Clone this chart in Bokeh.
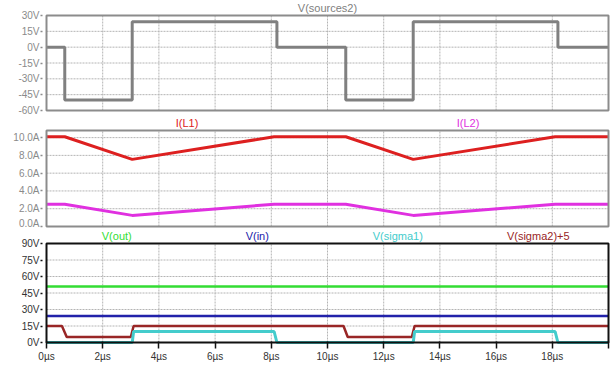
from bokeh.plotting import figure
from bokeh.layouts import column
from bokeh.models import Range1d, FixedTicker, PrintfTickFormatter
from bokeh.core.properties import value
from bokeh.embed import file_html
from bokeh.resources import INLINE

# ---- data ----
t_src = [0, 0.65, 0.65, 3.05, 3.05, 8.2, 8.2, 10.65, 10.65, 13.05, 13.05, 18.2, 18.2, 20]
v_src = [0, 0, -50, -50, 24, 24, 0, 0, -50, -50, 24, 24, 0, 0]

t_il = [0, 0.65, 3.05, 8.1, 10.65, 13.05, 18.1, 20]
i_l1 = [10.1, 10.1, 7.55, 10.1, 10.1, 7.55, 10.1, 10.1]
i_l2 = [2.5, 2.5, 1.25, 2.5, 2.5, 1.25, 2.5, 2.5]

t_const = [0, 20]
v_out = [51, 51]
v_in = [24, 24]

t_sig1 = [0, 3.05, 3.1, 8.1, 8.2, 13.05, 13.1, 18.1, 18.2, 20]
v_sig1 = [0, 0, 10, 10, 0, 0, 10, 10, 0, 0]

t_sig2 = [0, 0.55, 0.72, 3.0, 3.1, 10.57, 10.72, 13.0, 13.1, 20]
v_sig2p5 = [15, 15, 5, 5, 15, 15, 5, 5, 15, 15]

x_ticks = [0, 2, 4, 6, 8, 10, 12, 14, 16, 18, 20]
y1_ticks = [-60, -45, -30, -15, 0, 15, 30]
y2_ticks = [0, 2, 4, 6, 8, 10]
y2_top = 10.8
y3_ticks = [0, 15, 30, 45, 60, 75, 90]

# trace labels: (time position, text, colour)
lab1 = ([10], ["V(sources2)"], ["#808080"])
lab2 = ([5, 15], ["I(L1)", "I(L2)"], ["#dd2020", "#e030e0"])
lab3 = ([2.5, 7.5, 12.5, 17.5], ["V(out)", "V(in)", "V(sigma1)", "V(sigma2)+5"],
        ["#33dd33", "#2222aa", "#44cccc", "#992626"])

FONT = "Liberation Sans"
W = 612


def panel(height, bottom, ylo, yhi, yticks, yfmt, box_col, tick_col,
          above_px, below_px, show_x, labels):
    frame_h = height - bottom
    k = (frame_h - above_px - below_px) / (yhi - ylo)
    yr = Range1d(ylo - below_px / k, yhi + above_px / k)
    dx = 2 / (562 / 20)
    p = figure(width=W, height=height, output_backend="svg", toolbar_location=None,
               x_range=Range1d(x_ticks[0] - dx, x_ticks[-1] + dx), y_range=yr,
               min_border_left=44, min_border_right=2,
               min_border_top=0, min_border_bottom=bottom)
    p.outline_line_color = None
    p.xgrid.visible = False
    p.ygrid.visible = False
    ya = p.yaxis[0]
    ya.ticker = FixedTicker(ticks=yticks)
    ya.formatter = PrintfTickFormatter(format=yfmt)
    ya.axis_line_color = None
    ya.major_tick_line_color = box_col
    ya.major_tick_line_width = 1.5
    ya.major_tick_out = 4
    ya.major_tick_in = -2
    ya.minor_tick_line_color = None
    ya.major_label_text_font = FONT
    ya.major_label_text_font_size = "10px"
    ya.major_label_text_color = tick_col
    ya.major_label_standoff = 1
    xa = p.xaxis[0]
    if show_x:
        xa.ticker = FixedTicker(ticks=x_ticks)
        xa.formatter = PrintfTickFormatter(format="%d\u00b5s")
        xa.axis_line_color = None
        xa.major_tick_line_color = box_col
        xa.major_tick_line_width = 1.5
        xa.major_tick_out = 4
        xa.major_tick_in = 3
        xa.minor_tick_line_color = None
        xa.major_label_text_font = FONT
        xa.major_label_text_font_size = "10px"
        xa.major_label_text_color = tick_col
        xa.major_label_standoff = 2
        xa.major_label_overrides = {20: ""}
    else:
        xa.visible = False
    # grid lines inside the box
    gx = x_ticks[1:-1]
    p.segment(x0=gx, x1=gx, y0=[ylo] * len(gx), y1=[yhi] * len(gx),
              line_color="#b4b4b4", line_dash="2 1", line_width=1)
    gy = [y for y in yticks if ylo < y < yhi]
    p.segment(x0=[x_ticks[0]] * len(gy), x1=[x_ticks[-1]] * len(gy), y0=gy, y1=gy,
              line_color="#b4b4b4", line_dash="2 1", line_width=1)
    # labels above box
    xs, txt, cols = labels
    p.text(x=xs, y=[yhi + 7.5 / k] * len(xs), text=txt, text_color=cols,
           text_font=value(FONT), text_font_size="11px",
           text_align="center", text_baseline="middle")
    return p, (ylo, yhi, box_col)


def box(p, info):
    ylo, yhi, col = info
    p.quad(left=x_ticks[0], right=x_ticks[-1], bottom=ylo, top=yhi,
           fill_color=None, line_color=col, line_width=2)


# Panel 1 : box at page y 15..110, frame 0..112
p1, b1 = panel(116, 4, y1_ticks[0], y1_ticks[-1], y1_ticks, "%dV", "#8c8c8c", "#8a8a8a",
               15, 2, False, lab1)
p1.line(t_src, v_src, line_color="#808080", line_width=3)
box(p1, b1)

# Panel 2 : box at page y 130..226, frame 116..228
p2, b2 = panel(112, 0, y2_ticks[0], y2_top, y2_ticks, "%.1fA", "#8c8c8c", "#8a8a8a",
               14, 2, False, lab2)
p2.line(t_il, i_l1, line_color="#dd2020", line_width=3)
p2.line(t_il, i_l2, line_color="#e030e0", line_width=3)
box(p2, b2)

# Panel 3 : box at page y 243..342, frame 228..344
p3, b3 = panel(136, 20, y3_ticks[0], y3_ticks[-1], y3_ticks, "%dV", "#111111", "#333333",
               15, 2, True, lab3)
p3.line(t_const, v_out, line_color="#33dd33", line_width=2.5)
p3.line(t_const, v_in, line_color="#2222aa", line_width=2.5)
p3.line(t_sig2, v_sig2p5, line_color="#992626", line_width=2.5)
p3.line(t_sig1, v_sig1, line_color="#44cccc", line_width=3)
box(p3, b3)

layout = column(p1, p2, p3, spacing=0)
open("out.html", "w").write(file_html(layout, INLINE))
